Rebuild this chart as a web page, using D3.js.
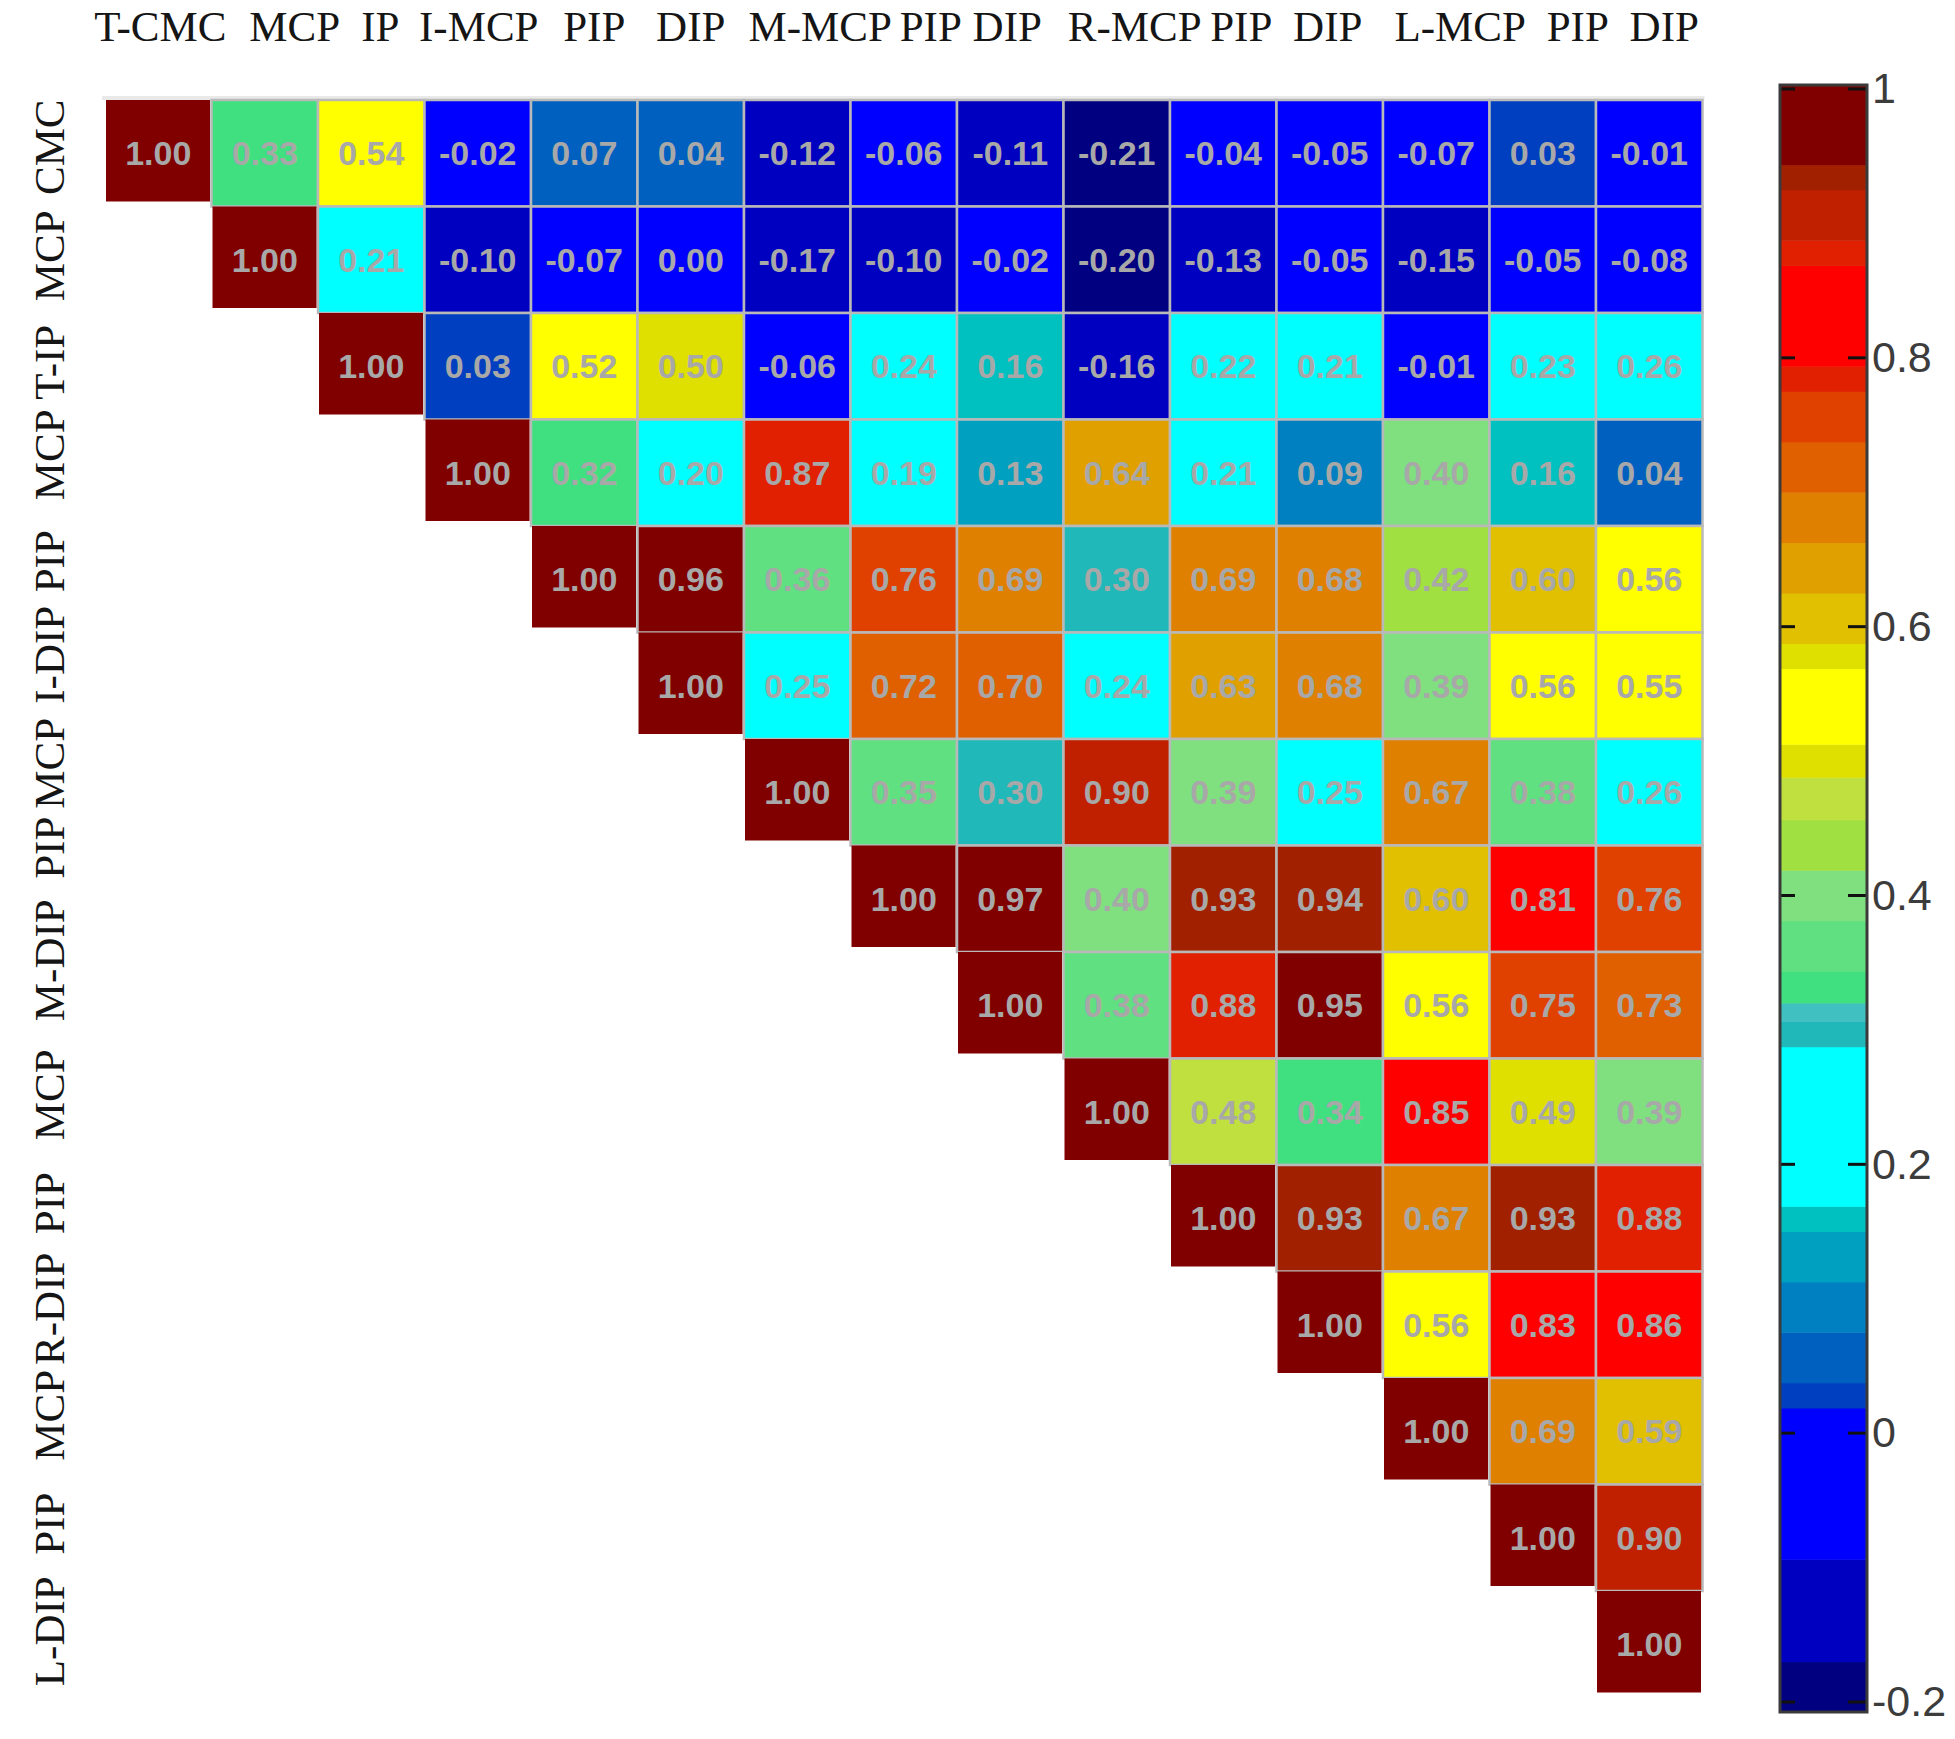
<!DOCTYPE html>
<html>
<head>
<meta charset="utf-8">
<script src="https://cdn.jsdelivr.net/npm/d3@7"></script>
<style>
    html, body { margin: 0; padding: 0; background: #fff; }
    svg { display: block; }
</style>
</head>
<body>
<div id="figure"></div>
<script>
(function () {
    'use strict';

    // joint names along the top / down the left side
    const colLabels = ['T-CMC', 'MCP', 'IP', 'I-MCP', 'PIP', 'DIP', 'M-MCP', 'PIP', 'DIP',
        'R-MCP', 'PIP', 'DIP', 'L-MCP', 'PIP', 'DIP'];
    const rowLabels = ['CMC', 'MCP', 'T-IP', 'MCP', 'PIP', 'I-DIP', 'MCP', 'PIP', 'M-DIP',
        'MCP', 'PIP', 'R-DIP', 'MCP', 'PIP', 'L-DIP'];

    // upper triangle, each row starts on the diagonal
    const corrRows = [
        [1.00, 0.33, 0.54, -0.02, 0.07, 0.04, -0.12, -0.06, -0.11, -0.21, -0.04, -0.05, -0.07, 0.03, -0.01],
        [1.00, 0.21, -0.10, -0.07, 0.00, -0.17, -0.10, -0.02, -0.20, -0.13, -0.05, -0.15, -0.05, -0.08],
        [1.00, 0.03, 0.52, 0.50, -0.06, 0.24, 0.16, -0.16, 0.22, 0.21, -0.01, 0.23, 0.26],
        [1.00, 0.32, 0.20, 0.87, 0.19, 0.13, 0.64, 0.21, 0.09, 0.40, 0.16, 0.04],
        [1.00, 0.96, 0.36, 0.76, 0.69, 0.30, 0.69, 0.68, 0.42, 0.60, 0.56],
        [1.00, 0.25, 0.72, 0.70, 0.24, 0.63, 0.68, 0.39, 0.56, 0.55],
        [1.00, 0.35, 0.30, 0.90, 0.39, 0.25, 0.67, 0.38, 0.26],
        [1.00, 0.97, 0.40, 0.93, 0.94, 0.60, 0.81, 0.76],
        [1.00, 0.38, 0.88, 0.95, 0.56, 0.75, 0.73],
        [1.00, 0.48, 0.34, 0.85, 0.49, 0.39],
        [1.00, 0.93, 0.67, 0.93, 0.88],
        [1.00, 0.56, 0.83, 0.86],
        [1.00, 0.69, 0.59],
        [1.00, 0.90],
        [1.00]
    ];

    // discrete colour map (band edges, bottom to top)
    const bandEdges = [-0.2, -0.17, -0.09375, 0.01875, 0.0375, 0.075, 0.1125, 0.15, 0.16875,
        0.2875, 0.30625, 0.32, 0.34375, 0.38125, 0.41875, 0.45625, 0.488, 0.5125, 0.56875,
        0.5875, 0.625, 0.6625, 0.7, 0.7375, 0.775, 0.79375, 0.86875, 0.8875, 0.925, 0.94375, 1];
    const bandColors = ['#000080', '#0000c0', '#0000ff', '#0040c0', '#0060c0', '#0080c0',
        '#00a0c0', '#00c0c0', '#00ffff', '#20b8b8', '#40c0c0', '#40e080', '#60e080', '#80e080',
        '#a0e040', '#c0e040', '#e0e000', '#ffff00', '#e0e000', '#e0c000', '#e0a000', '#e08000',
        '#e06000', '#e04000', '#e02000', '#ff0000', '#e02000', '#c02000', '#a02000', '#800000'];
    const cbTicks = [-0.2, 0, 0.2, 0.4, 0.6, 0.8, 1];

    // label nudges: the original labels are typed as spaced text lines
    const colLabelShift = [2, 30, 9, 1, 10, 0, 23, 27, -3, 18, 18, -2, 24, 35, 15];
    const rowLabelShift = [-6, -4, -4, -18, -18, -31, -29, -51, -45, -17, -15, -16, -16, -14, -13];

    let width = 1955;
    let height = 1739;
    let n = colLabels.length;

    let svg = d3.select('#figure').append('svg')
        .attr('width', width)
        .attr('height', height);

    svg.append('rect')
        .attr('width', width)
        .attr('height', height)
        .style('fill', '#fff');

    let xScale = d3.scaleBand().domain(d3.range(n)).range([105, 1702.5]);
    let yScale = d3.scaleBand().domain(d3.range(n)).range([100, 1697.5]);
    let bw = xScale.bandwidth();
    let bh = yScale.bandwidth();

    let color = d3.scaleThreshold()
        .domain(bandEdges.slice(1, -1))
        .range(bandColors);

    let cells = [];
    corrRows.forEach(function (row, i) {
        row.forEach(function (v, k) {
            cells.push({ row: i, col: i + k, value: v });
        });
    });

    // faint edge above the table
    svg.append('rect')
        .attr('x', xScale(0) - 3)
        .attr('y', yScale(0) - 4)
        .attr('width', xScale(n - 1) + bw - xScale(0) + 5)
        .attr('height', 4)
        .style('fill', '#e9e9e9');

    let mainArea = svg.append('g').attr('class', 'main-area');

    mainArea.selectAll('rect.off')
        .data(cells.filter(function (d) { return d.row !== d.col; }))
        .enter().append('rect')
        .attr('class', 'off')
        .attr('x', function (d) { return xScale(d.col); })
        .attr('y', function (d) { return yScale(d.row); })
        .attr('width', bw)
        .attr('height', bh)
        .style('fill', function (d) { return color(d.value); })
        .style('stroke', '#b9b9b9')
        .style('stroke-width', 2.5);

    mainArea.selectAll('rect.diag')
        .data(cells.filter(function (d) { return d.row === d.col; }))
        .enter().append('rect')
        .attr('class', 'diag')
        .attr('x', function (d) { return xScale(d.col) + 1; })
        .attr('y', function (d) { return yScale(d.row); })
        .attr('width', bw - 2.5)
        .attr('height', bh - 5)
        .style('fill', function (d) { return color(d.value); });

    mainArea.selectAll('text.value')
        .data(cells)
        .enter().append('text')
        .attr('class', 'value')
        .attr('x', function (d) { return xScale(d.col) + bw / 2; })
        .attr('y', function (d) { return yScale(d.row) + bh / 2 + 12; })
        .attr('text-anchor', 'middle')
        .style('font-family', '"Liberation Sans", Arial, sans-serif')
        .style('font-weight', 'bold')
        .style('font-size', '34px')
        .style('fill', '#a8a8a8')
        .text(function (d) { return d.value.toFixed(2); });

    // column / row labels
    svg.append('g').selectAll('text')
        .data(colLabels)
        .enter().append('text')
        .attr('x', function (d, j) { return xScale(j) + bw / 2 + colLabelShift[j]; })
        .attr('y', 41)
        .attr('text-anchor', 'middle')
        .style('font-family', '"Liberation Serif", "Times New Roman", serif')
        .style('font-size', '43px')
        .style('fill', '#151515')
        .text(function (d) { return d; });

    svg.append('g').selectAll('text')
        .data(rowLabels)
        .enter().append('text')
        .attr('transform', function (d, i) {
            return 'translate(64,' + (yScale(i) + bh / 2 + rowLabelShift[i]) + ') rotate(-90)';
        })
        .attr('text-anchor', 'middle')
        .style('font-family', '"Liberation Serif", "Times New Roman", serif')
        .style('font-size', '43px')
        .style('fill', '#151515')
        .text(function (d) { return d; });

    // colour bar
    let cbX = 1781;
    let cbW = 85;
    let cbScale = d3.scaleLinear().domain([-0.2, 1]).range([1702, 89]);
    let cbTop = cbScale(1) - 4;
    let cbBottom = cbScale(-0.2) + 10;

    let bar = svg.append('g').attr('class', 'colorbar');
    bar.selectAll('rect.band')
        .data(bandColors)
        .enter().append('rect')
        .attr('class', 'band')
        .attr('x', cbX)
        .attr('width', cbW)
        .attr('y', function (d, i) {
            return i === bandColors.length - 1 ? cbTop : cbScale(bandEdges[i + 1]);
        })
        .attr('height', function (d, i) {
            let top = i === bandColors.length - 1 ? cbTop : cbScale(bandEdges[i + 1]);
            let bottom = i === 0 ? cbBottom : cbScale(bandEdges[i]);
            return bottom - top + 0.5;
        })
        .style('fill', function (d) { return d; });

    bar.selectAll('line.tick-l')
        .data(cbTicks)
        .enter().append('line')
        .attr('x1', cbX).attr('x2', cbX + 14)
        .attr('y1', function (d) { return cbScale(d); })
        .attr('y2', function (d) { return cbScale(d); })
        .style('stroke', '#111')
        .style('stroke-width', 3);
    bar.selectAll('line.tick-r')
        .data(cbTicks)
        .enter().append('line')
        .attr('x1', cbX + cbW - 18).attr('x2', cbX + cbW)
        .attr('y1', function (d) { return cbScale(d); })
        .attr('y2', function (d) { return cbScale(d); })
        .style('stroke', '#111')
        .style('stroke-width', 3);

    bar.append('rect')
        .attr('x', cbX - 1)
        .attr('y', cbTop)
        .attr('width', cbW + 2)
        .attr('height', cbBottom - cbTop)
        .style('fill', 'none')
        .style('stroke', '#3a3a3a')
        .style('stroke-width', 3);

    let cbAxis = d3.axisRight(cbScale)
        .tickValues(cbTicks)
        .tickSize(0)
        .tickPadding(6)
        .tickFormat(function (d) { return String(d); });
    let axisG = svg.append('g')
        .attr('class', 'y-axis')
        .attr('transform', 'translate(' + (cbX + cbW) + ',0)')
        .call(cbAxis);
    axisG.select('.domain').remove();
    axisG.selectAll('text')
        .style('font-family', '"Liberation Sans", Arial, sans-serif')
        .style('font-size', '43px')
        .style('fill', '#3c3c3c');
})();
</script>
</body>
</html>
